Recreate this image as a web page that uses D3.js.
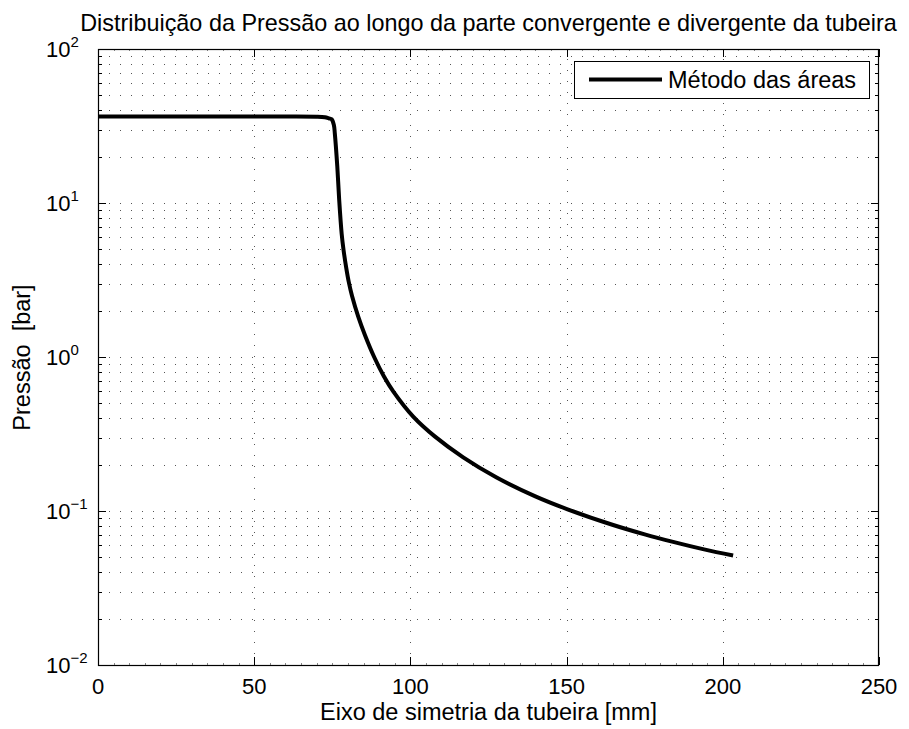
<!DOCTYPE html>
<html><head><meta charset="utf-8">
<script src="https://cdn.jsdelivr.net/npm/d3@7"></script>
<style>
body{margin:0;background:#fff;}
text{font-family:"Liberation Sans",Arial,Helvetica,sans-serif;fill:#000;white-space:pre;}
</style></head>
<body><svg id="c" width="909" height="729"></svg>
<script>
const xs = [0, 10, 20, 30, 40, 50, 60, 70, 72.6, 74.0, 74.8, 75.5, 75.8, 76.6, 77.2, 78.0, 78.6, 79.5, 80.3, 81.3, 83.3, 85.5, 88.4, 91.5, 94.5, 100.9, 107.8, 116.9, 127.6, 140, 150.3, 164.9, 175, 184.1, 194, 203.3];
const ps = [36.4, 36.4, 36.4, 36.4, 36.4, 36.4, 36.4, 36.3, 36.0, 35.4, 35.0, 32.1, 28.4, 17.2, 10.5, 6.3, 4.95, 3.75, 3.05, 2.5, 1.83, 1.38, 1.0, 0.75, 0.598, 0.41, 0.305, 0.223, 0.165, 0.1245, 0.1026, 0.0811, 0.0705, 0.063, 0.0563, 0.0514];
const xTicks = [0, 50, 100, 150, 200, 250];
const yExps = [-2, -1, 0, 1, 2];
const titleText = "Distribuição da Pressão ao longo da parte convergente e divergente da tubeira";
const xLabel = "Eixo de simetria da tubeira [mm]";
const yLabel = "Pressão  [bar]";
const legendLabel = "Método das áreas";

const L = 98, R = 879, T = 49, B = 665;
const svg = d3.select("#c");
const x = d3.scaleLinear().domain([0, 250]).range([L, R]);
const y = d3.scaleLog().domain([0.01, 100]).range([B, T]);

// grid
const g = svg.append("g");
const minorY = [];
for (let e = -2; e < 2; e++) for (let m = 1; m <= 9; m++) minorY.push(m * Math.pow(10, e));
minorY.push(100);
const gridStyle = s => s.attr("stroke", "#555").attr("stroke-width", 1).attr("stroke-dasharray", "1,10").attr("fill", "none");
g.selectAll("line.hy").data(minorY.filter(v => v > 0.01 && v < 100)).join("line")
  .attr("x1", L).attr("x2", R)
  .attr("y1", d => Math.round(y(d)) + 0.5).attr("y2", d => Math.round(y(d)) + 0.5)
  .call(gridStyle);
g.selectAll("line.vx").data(xTicks.filter(v => v > 0 && v < 250)).join("line")
  .attr("y1", B).attr("y2", T)
  .attr("x1", d => Math.round(x(d)) + 0.5).attr("x2", d => Math.round(x(d)) + 0.5)
  .call(gridStyle);

// ticks
const tk = svg.append("g").attr("stroke", "#000").attr("stroke-width", 1);
minorY.forEach(v => {
  const yy = Math.round(y(v)) + 0.5;
  const major = Math.abs(Math.log10(v) - Math.round(Math.log10(v))) < 1e-9;
  const len = major ? 8 : 4;
  tk.append("line").attr("x1", L).attr("x2", L + len).attr("y1", yy).attr("y2", yy);
  tk.append("line").attr("x1", R).attr("x2", R - len).attr("y1", yy).attr("y2", yy);
});
d3.range(0, 251, 5).forEach(v => {
  const xx = Math.round(x(v)) + 0.5;
  const major = v % 50 === 0;
  const len = major ? 8 : 2;
  tk.append("line").attr("x1", xx).attr("x2", xx).attr("y1", B).attr("y2", B - len).attr("stroke", major ? "#000" : "#888");
  tk.append("line").attr("x1", xx).attr("x2", xx).attr("y1", T).attr("y2", T + len).attr("stroke", major ? "#000" : "#888");
});

// box
svg.append("rect").attr("x", L + 0.5).attr("y", T + 0.5).attr("width", R - L - 1).attr("height", B - T)
  .attr("fill", "none").attr("stroke", "#000").attr("stroke-width", 1.2);

// tick labels
svg.selectAll("text.xt").data(xTicks).join("text")
  .attr("x", d => x(d)).attr("y", 694).attr("text-anchor", "middle")
  .attr("font-size", 22).text(d => d);
yExps.forEach(e => {
  const t = svg.append("text").attr("x", 46).attr("y", y(Math.pow(10, e)) + 8).attr("text-anchor", "start").attr("font-size", 22);
  t.append("tspan").text("10");
  t.append("tspan").attr("dy", -10).attr("font-size", 15).text(e < 0 ? "\u2212" + (-e) : String(e));
});

// curve
const line = d3.line().x((d, i) => x(xs[i])).y((d, i) => y(ps[i])).curve(d3.curveCatmullRom.alpha(0.5));
svg.append("path").datum(ps).attr("d", line).attr("fill", "none").attr("stroke", "#000")
  .attr("stroke-width", 4).attr("stroke-linejoin", "round").attr("stroke-linecap", "butt");

// legend
svg.append("rect").attr("x", 574.5).attr("y", 61.5).attr("width", 295).attr("height", 37)
  .attr("fill", "#fff").attr("stroke", "#000").attr("stroke-width", 1);
svg.append("line").attr("x1", 589).attr("x2", 662).attr("y1", 79.5).attr("y2", 79.5).attr("stroke", "#000").attr("stroke-width", 4);
svg.append("text").attr("x", 668).attr("y", 88).attr("font-size", 23.5).text(legendLabel);

// titles
svg.append("text").attr("x", 488.5).attr("y", 31).attr("text-anchor", "middle").attr("font-size", 23.4).text(titleText);
svg.append("text").attr("x", 488.5).attr("y", 720).attr("text-anchor", "middle").attr("font-size", 23.5).text(xLabel);
svg.append("text").attr("transform", "translate(30,357.5) rotate(-90)").attr("text-anchor", "middle").attr("font-size", 23.5).text(yLabel);
</script></body></html>
